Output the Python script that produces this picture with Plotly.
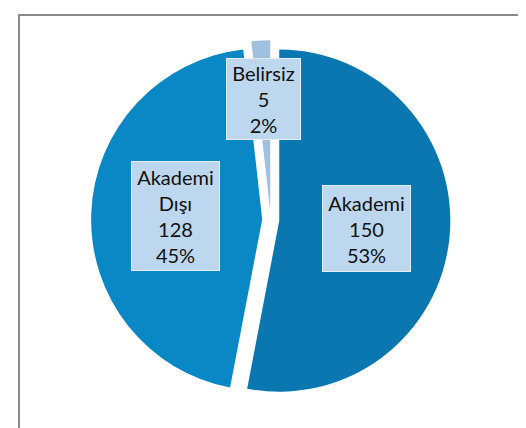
import math
import plotly.graph_objects as go

# data
labels = ["Akademi", "Akademi Dışı", "Belirsiz"]
values = [150, 128, 5]
percents = [53, 45, 2]
box_labels = ["Akademi", "Akademi<br>Dışı", "Belirsiz"]

COLORS = ["#0b77b0", "#0a88c6", "#9fc0de"]
PULL = 0.05
LABEL_R = [0.56, 0.56, 0.71]   # label distance, fraction of radius
BOX_W = [85, 85, 71]
BOX_H = [83, 106, 78]
W, H = 526, 428
DOM_X = [0.158, 0.841]
DOM_Y = [0.085, 0.925]

fig = go.Figure(go.Pie(
    labels=labels, values=values, sort=False, direction="clockwise", rotation=0,
    marker=dict(colors=COLORS, line=dict(width=0)),
    pull=[PULL] * len(values), textinfo="none", hoverinfo="label+value+percent",
    domain=dict(x=DOM_X, y=DOM_Y), showlegend=False,
))

# label boxes placed at each slice's mid angle
cx = (DOM_X[0] + DOM_X[1]) / 2 * W
cy = (DOM_Y[0] + DOM_Y[1]) / 2 * H
r = min((DOM_X[1] - DOM_X[0]) * W, (DOM_Y[1] - DOM_Y[0]) * H) / 2 / (1 + PULL)
total = sum(values)
start = 0
annotations = []
for i, v in enumerate(values):
    mid = (start + v / 2) / total * 2 * math.pi
    start += v
    d = LABEL_R[i] * r
    x = (cx + d * math.sin(mid)) / W
    y = (cy + d * math.cos(mid)) / H
    annotations.append(dict(
        x=x, y=y, xref="paper", yref="paper", xanchor="center", yanchor="middle",
        showarrow=False,
        text=f"{box_labels[i]}<br>{values[i]}<br>{percents[i]}%",
        font=dict(family="Lato, sans-serif", size=20, color="#111111"),
        bgcolor="#bdd7ee", bordercolor="#e4eef8", borderwidth=1,
        width=BOX_W[i], height=BOX_H[i], align="center",
    ))

fig.update_layout(
    width=W, height=H, margin=dict(l=0, r=0, t=0, b=0),
    paper_bgcolor="white", plot_bgcolor="white",
    annotations=annotations,
    shapes=[dict(type="rect", xref="paper", yref="paper",
                 x0=11 / W, x1=1.05, y0=-0.05, y1=1 - 7 / H,
                 line=dict(color="#8a8a8a", width=2), layer="below")],
)
fig.write_html("out.html")
